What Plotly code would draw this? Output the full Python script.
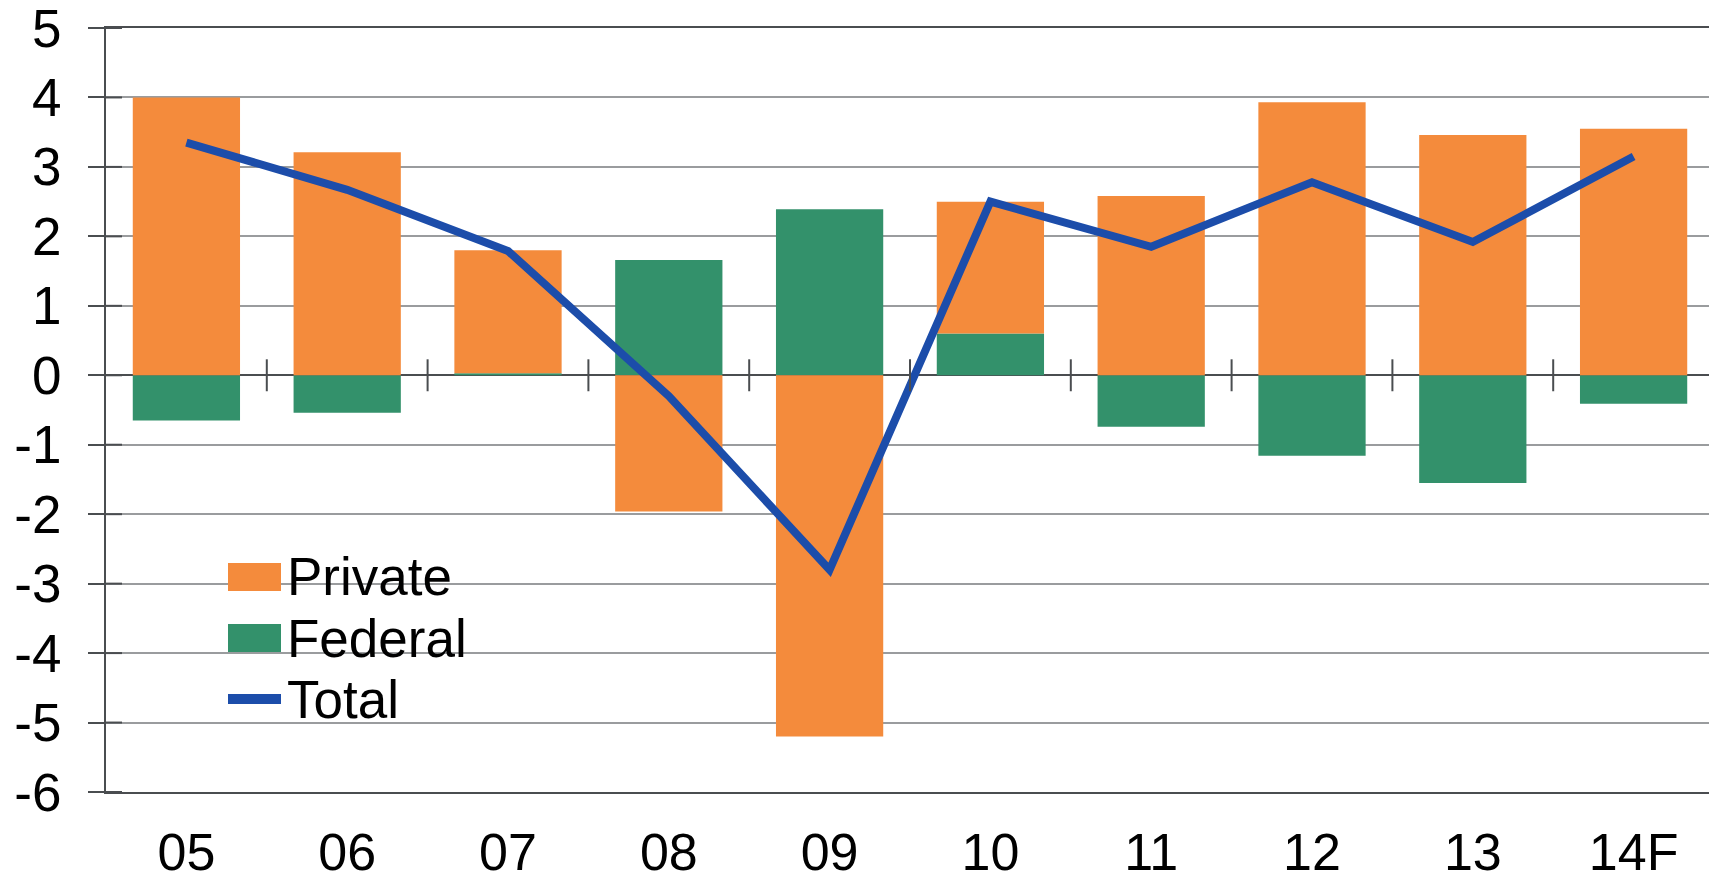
import plotly.graph_objects as go

# data
years = ["05", "06", "07", "08", "09", "10", "11", "12", "13", "14F"]
private = [4.00, 3.21, 1.77, -1.96, -5.20, 1.90, 2.58, 3.93, 3.46, 3.55]
federal = [-0.65, -0.54, 0.03, 1.66, 2.39, 0.60, -0.74, -1.16, -1.55, -0.41]
total = [3.35, 2.67, 1.79, -0.30, -2.80, 2.50, 1.85, 2.78, 1.92, 3.15]
y_ticks = [5, 4, 3, 2, 1, 0, -1, -2, -3, -4, -5, -6]
legend_names = ["Private", "Federal", "Total"]

orange = "#F48B3C"
green = "#33916B"
blue = "#1C4DAA"
axis_col = "#4a4d50"
grid_col = "#9a9c9e"
font_family = "Liberation Sans, Arial, sans-serif"

# page has an 8px body margin, so the figure is a bit smaller than the window
OFF = 8
W, H = 1717 - OFF, 879 - OFF
# plot area in page pixels
P_LEFT, P_RIGHT, P_TOP, P_BOTTOM = 106, 1714, 28, 792
pw, ph = P_RIGHT - P_LEFT, P_BOTTOM - P_TOP


def px(x):
    return (x - P_LEFT) / pw


def py(y):
    return (P_BOTTOM - y) / ph


fig = go.Figure()

# federal first so it sits next to zero when both are positive
fig.add_trace(go.Bar(x=years, y=federal, name="Federal", marker_color=green,
                     marker_line_width=0, showlegend=False))
fig.add_trace(go.Bar(x=years, y=private, name="Private", marker_color=orange,
                     marker_line_width=0, showlegend=False))
fig.add_trace(go.Scatter(x=years, y=total, name="Total", mode="lines",
                         line=dict(color=blue, width=8), showlegend=False))

# crossing ticks on the zero line between categories
for i in range(len(years) - 1):
    fig.add_shape(type="line", xref="x", yref="y", x0=i + 0.5, x1=i + 0.5,
                  y0=-0.23, y1=0.23, line=dict(color=axis_col, width=2))

# inner half of the y ticks
for v in y_ticks:
    fig.add_shape(type="line", xref="paper", yref="y", x0=0, x1=px(P_LEFT + 16),
                  y0=v, y1=v, line=dict(color=axis_col, width=2))

# legend box (white, hides grid lines behind it)
fig.add_shape(type="rect", xref="paper", yref="paper", layer="between",
              x0=px(123), x1=px(569), y0=py(762), y1=py(532),
              fillcolor="white", line_width=0)
fig.add_shape(type="rect", xref="paper", yref="paper",
              x0=px(228), x1=px(281), y0=py(591), y1=py(563),
              fillcolor=orange, line_width=0)
fig.add_shape(type="rect", xref="paper", yref="paper",
              x0=px(228), x1=px(281), y0=py(652), y1=py(624),
              fillcolor=green, line_width=0)
fig.add_shape(type="line", xref="paper", yref="paper",
              x0=px(228), x1=px(281), y0=py(699), y1=py(699),
              line=dict(color=blue, width=10))
for name, yc in zip(legend_names, [576, 638, 699]):
    fig.add_annotation(text=name, xref="paper", yref="paper", x=px(285), y=py(yc),
                       xanchor="left", yanchor="middle", showarrow=False,
                       font=dict(size=53, color="black"))

fig.update_layout(
    width=W, height=H,
    margin=dict(l=P_LEFT - OFF, r=W - (P_RIGHT - OFF), t=P_TOP - OFF,
                b=H - (P_BOTTOM - OFF)),
    plot_bgcolor="white", paper_bgcolor="white",
    barmode="relative", bargap=0.333,
    font=dict(family=font_family, size=52, color="black"),
    showlegend=False,
)

fig.update_xaxes(
    type="category", range=[-0.5, 9.5], automargin=False,
    showline=True, linecolor=axis_col, linewidth=2, mirror=True,
    ticks="", showgrid=False, ticklabelstandoff=14,
    ticklabeloverflow="allow", tickfont=dict(size=52),
)
fig.update_yaxes(
    range=[-6, 5], tickvals=y_ticks, ticktext=[str(v) for v in y_ticks],
    automargin=False,
    showline=True, linecolor=axis_col, linewidth=2, mirror=True,
    ticks="outside", ticklen=16, tickcolor=axis_col, tickwidth=2,
    showgrid=True, gridcolor=grid_col, gridwidth=2,
    zeroline=True, zerolinecolor=axis_col, zerolinewidth=2,
    ticklabelstandoff=16, ticklabeloverflow="allow", tickfont=dict(size=53),
)

fig.write_html("out.html")
